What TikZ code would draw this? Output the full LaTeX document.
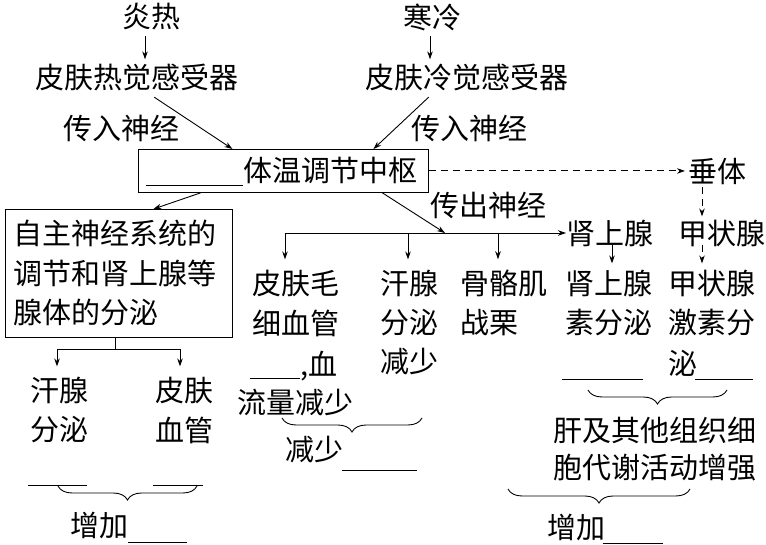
\documentclass[tikz,border=0pt]{standalone}
\usepackage{fontspec}
\setmainfont{Noto Sans CJK SC}
\usetikzlibrary{arrows.meta,decorations.pathreplacing,calc}
\begin{document}
\begin{tikzpicture}[x=1pt,y=-1pt,
  txt/.style={inner sep=0pt,anchor=west,font=\fontsize{29}{32}\selectfont},
  arr/.style={-{Stealth[length=8pt,width=5.5pt]},line width=0.9pt},
  ln/.style={line width=0.9pt},
  dsh/.style={dash pattern=on 7pt off 5pt},
  brc/.style={decorate,decoration={brace,amplitude=14pt,mirror},line width=0.9pt},
  boxst/.style={draw,line width=0.9pt,inner sep=0pt}]
\useasboundingbox (0,0) rectangle (766,545);

% top texts
\node[txt] (yan) at (122,17) {炎热};
\node[txt] (han) at (403,17) {寒冷};
\node[txt] (hot) at (35,77) {皮肤热觉感受器};
\node[txt] (cold) at (365,77) {皮肤冷觉感受器};
\node[txt] (in1) at (63,128) {传入神经};
\node[txt] (in2) at (411,128) {传入神经};

% centre box
\node[boxst,minimum width=290pt,minimum height=43pt,anchor=north west] (ctr) at (138,149) {};
\node[txt] (ctrt) at (243,170) {体温调节中枢};
\coordinate (ctrbl) at (146,185);
\draw[ln] (ctrbl) -- (ctrbl -| ctrt.west);

\node[txt] (chui) at (688,171) {垂体};

% arrows top
\coordinate (xa) at (145,0);
\coordinate (xb) at (430,0);
\draw[arr] ($(yan.south -| xa)+(0,5)$) -- ($(hot.north -| xa)+(0,-4)$);
\draw[arr] ($(han.south -| xb)+(0,5)$) -- ($(cold.north -| xb)+(0,-4)$);
\draw[arr] ([xshift=17.5pt,yshift=-6.5pt]hot.south) -- ([xshift=-51pt]ctr.north);
\draw[arr] ([xshift=-38pt,yshift=-6.5pt]cold.south) -- ([xshift=90pt]ctr.north);
\draw[arr,dsh] (ctr.east) -- ([xshift=-3pt]ctr.east -| chui.west);

% left autonomic box
\node[boxst,minimum width=227pt,minimum height=128pt,anchor=north west] (abox) at (5,209) {};
\node[txt] (a1) at (13,233) {自主神经系统的};
\node[txt] (a2) at (13,273) {调节和肾上腺等};
\node[txt] (a3) at (13,312) {腺体的分泌};
\draw[arr] ([xshift=-83pt]ctr.south) -- ([xshift=34.5pt]abox.north);

\node[txt] (lh1) at (30,390) {汗腺};
\node[txt] (lh2) at (30,430) {分泌};
\node[txt] (lp1) at (155,390) {皮肤};
\node[txt] (lp2) at (155,430) {血管};
\coordinate (ax) at (115,0);
\coordinate (aj) at (115,349);
\coordinate (al) at (57,349);
\coordinate (ar) at (180,349);
\draw[ln] (abox.south -| ax) -- (aj);
\draw[ln] (al) -- (ar);
\draw[arr] (al) -- ($(al |- lh1.north)+(0,-10)$);
\draw[arr] (ar) -- ($(ar |- lp1.north)+(0,-10)$);
\coordinate (lu1a) at (28,485); \coordinate (lu1b) at (87,485);
\coordinate (lu2a) at (153,485); \coordinate (lu2b) at (203,485);
\draw[ln] (lu1a) -- (lu1b);
\draw[ln] (lu2a) -- (lu2b);
\coordinate (lba) at (58,486); \coordinate (lbb) at (197,486);
\draw[brc] (lba) -- (lbb);
\node[txt] (lz) at (70,525) {增加};
\draw[ln] ([yshift=-17pt]lz.east) -- ++(59,0);

% efferent
\node[txt] (out) at (430,205) {传出神经};
\coordinate (bj) at (445,233);
\coordinate (b1) at (285,233);
\coordinate (b2) at (408,233);
\coordinate (b3) at (498,233);
\draw[arr] ([xshift=99pt]ctr.south) -- (bj);

\node[txt] (sy1) at (566,233) {肾上腺};
\node[txt] (jz1) at (678,233) {甲状腺};
\draw[arr] (b1) -- (sy1.west);

\node[txt] (p1) at (252,283) {皮肤毛};
\node[txt] (p2) at (252,323) {细血管};
\node[txt] (p3) at (300,366) {,血};
\node[txt] (p4) at (237,403) {流量减少};
\draw[ln] (250,378) -- (p3.west |- 0,378);

\node[txt] (h1) at (380,283) {汗腺};
\node[txt] (h2) at (380,323) {分泌};
\node[txt] (h3) at (380,362) {减少};

\node[txt] (g1) at (460,283) {骨骼肌};
\node[txt] (g2) at (460,323) {战栗};

\draw[arr] (b1) -- ($(b1 |- p1.north)+(0,-10)$);
\draw[arr] (b2) -- ($(b2 |- h1.north)+(0,-10)$);
\draw[arr] (b3) -- ($(b3 |- g1.north)+(0,-10)$);

\coordinate (mba) at (282,418); \coordinate (mbb) at (422,418);
\draw[brc] (mba) -- (mbb);
\node[txt] (mz) at (285,450) {减少};
\draw[ln] (342,470) -- (417,470);

% right column
\node[txt] (sy2) at (565,283) {肾上腺};
\node[txt] (sy3) at (565,323) {素分泌};
\node[txt] (jz2) at (668,283) {甲状腺};
\node[txt] (jz3) at (668,323) {激素分};
\node[txt] (jz4) at (668,363) {泌};
\coordinate (xs) at (612,0);
\coordinate (xj) at (702,0);
\draw[arr] ($(sy1.south -| xs)+(0,-2)$) -- ($(sy2.north -| xs)+(0,-6)$);
\draw[arr,dsh] ($(chui.south -| xj)+(0,3)$) -- ($(jz1.north -| xj)+(0,-3)$);
\draw[arr,dsh] ($(jz1.south -| xj)+(0,-2)$) -- ($(jz2.north -| xj)+(0,-6)$);
\draw[ln] (562,379) -- (643,379);
\draw[ln] (695,379) -- (753,379);
\coordinate (rba) at (588,390); \coordinate (rbb) at (727,390);
\draw[brc] (rba) -- (rbb);
\node[txt] (r1) at (553,430) {肝及其他组织细};
\node[txt] (r2) at (553,468) {胞代谢活动增强};
\coordinate (rca) at (508,489); \coordinate (rcb) at (690,489);
\draw[brc] (rca) -- (rcb);
\node[txt] (rz) at (547,527) {增加};
\draw[ln] (603,543) -- (663,543);
\end{tikzpicture}
\end{document}
